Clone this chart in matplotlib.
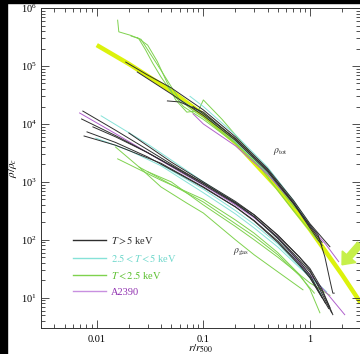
import matplotlib
matplotlib.use("Agg")
import matplotlib.pyplot as plt
from matplotlib.patches import Rectangle, FancyArrow

plt.rcParams['font.family'] = ['Liberation Serif', 'DejaVu Serif']
plt.rcParams['mathtext.fontset'] = 'stix'

# colours for the temperature classes
BLACK = '#2e2e2e'
CYAN = '#86e2d8'
GREEN = '#7fd24e'
PURPLE = '#b060cc'
YELLOW = '#dcf20c'

# NFW reference (thick yellow)
nfw_r = [0.01, 0.02, 0.05, 0.1, 0.2, 0.5, 1.0, 2.0, 3.0]
nfw_rho = [2.3e5, 1.09e5, 3.7e4, 1.44e4, 4.8e3, 780, 152, 25, 8.1]

# total density profiles
tot_black1_r = [0.0187, 0.03, 0.05, 0.1, 0.2, 0.4, 0.7, 1.0, 1.54]
tot_black1 = [1.17e5, 7.0e4, 4.2e4, 1.75e4, 6.0e3, 1.7e3, 480, 190, 76]
tot_black2_r = [0.024, 0.05, 0.1, 0.2, 0.4, 0.7, 1.0, 1.19, 1.38, 1.54, 1.64, 1.69]
tot_black2 = [7.9e4, 3.3e4, 1.4e4, 5.2e3, 1.5e3, 420, 180, 123, 51, 20, 12, 12]
tot_black3_r = [0.046, 0.06, 0.1, 0.2, 0.4, 0.7, 1.0, 1.3]
tot_black3 = [2.5e4, 2.4e4, 1.6e4, 5.5e3, 1.6e3, 450, 170, 90]
tot_black4_r = [0.08, 0.1, 0.2, 0.4, 0.7, 1.0, 1.3]
tot_black4 = [2.0e4, 1.5e4, 5.6e3, 1.6e3, 430, 160, 80]
tot_cyan1_r = [0.075, 0.1, 0.2, 0.4, 0.7, 1.0, 1.2]
tot_cyan1 = [3.0e4, 2.0e4, 6.5e3, 1.8e3, 480, 180, 110]
tot_cyan2_r = [0.06, 0.1, 0.2, 0.4, 0.8, 1.1]
tot_cyan2 = [2.6e4, 1.5e4, 5.0e3, 1.45e3, 320, 140]
tot_purple_r = [0.08, 0.1, 0.2, 0.4, 0.7, 1.0, 1.4, 1.86]
tot_purple = [1.5e4, 1.0e4, 4.2e3, 1.35e3, 430, 170, 85, 42]
tot_greenA_r = [0.0157, 0.0161, 0.0207, 0.0247, 0.0287, 0.0334, 0.04, 0.05,
                0.065, 0.1, 0.2, 0.4, 0.7, 0.86]
tot_greenA = [6.2e5, 3.9e5, 3.4e5, 3.0e5, 1.9e5, 1.13e5, 6.5e4, 3.6e4,
              2.0e4, 1.2e4, 4.6e3, 1.4e3, 380, 270]
tot_greenB_r = [0.021, 0.026, 0.032, 0.04, 0.05, 0.06, 0.08, 0.1, 0.2, 0.4, 0.7, 1.0]
tot_greenB = [3.3e5, 2.9e5, 1.6e5, 8.5e4, 4.4e4, 2.6e4, 1.7e4, 1.3e4, 4.8e3, 1.5e3, 420, 160]
tot_greenC_r = [0.024, 0.03, 0.037, 0.045, 0.055, 0.07, 0.09, 0.1, 0.15, 0.25, 0.42, 0.7, 1.2]
tot_greenC = [3.1e5, 2.3e5, 1.2e5, 5.5e4, 2.6e4, 1.6e4, 1.7e4, 2.6e4, 1.2e4, 4.0e3, 1.07e3, 320, 95]

# gas density profiles
gas_black1_r = [0.0074, 0.015, 0.03, 0.06, 0.1, 0.2, 0.3, 0.5, 0.8, 1.0, 1.3, 1.64]
gas_black1 = [1.67e4, 7.8e3, 3.6e3, 1.65e3, 950, 440, 270, 120, 50, 32, 14, 5.1]
gas_purple_r = [0.0069, 0.015, 0.03, 0.06, 0.1, 0.2, 0.3, 0.5, 0.8, 1.0, 1.5, 2.12]
gas_purple = [1.55e4, 6.8e3, 3.2e3, 1.5e3, 880, 400, 240, 110, 40, 25, 11, 5.1]
gas_black2_r = [0.0072, 0.015, 0.03, 0.06, 0.1, 0.2, 0.3, 0.5, 0.8, 1.0, 1.3, 1.54]
gas_black2 = [1.22e4, 6.3e3, 3.2e3, 1.55e3, 900, 420, 250, 110, 45, 28, 13, 6.8]
gas_black3_r = [0.0092, 0.015, 0.03, 0.06, 0.1, 0.2, 0.3, 0.5, 0.8, 1.0, 1.4]
gas_black3 = [8.9e3, 6.0e3, 3.2e3, 1.6e3, 950, 430, 250, 105, 42, 25, 8]
gas_black4_r = [0.0081, 0.015, 0.03, 0.06, 0.1, 0.2, 0.3, 0.5, 0.8, 1.0, 1.5]
gas_black4 = [7.3e3, 4.8e3, 2.7e3, 1.35e3, 800, 370, 215, 95, 38, 23, 6.5]
gas_black5_r = [0.0076, 0.015, 0.04, 0.1, 0.2, 0.3, 0.5, 0.8, 1.0, 1.3]
gas_black5 = [6.2e3, 4.3e3, 2.1e3, 820, 370, 210, 90, 36, 22, 10]
gas_black6_r = [0.02, 0.05, 0.1, 0.2, 0.3, 0.5, 0.8, 1.0, 1.6]
gas_black6 = [7e3, 2.2e3, 1.0e3, 460, 270, 120, 50, 30, 5.5]
gas_cyan1_r = [0.011, 0.03, 0.06, 0.1, 0.2, 0.3, 0.5, 0.8, 1.2]
gas_cyan1 = [1.38e4, 4.5e3, 1.9e3, 1.0e3, 440, 250, 105, 40, 16]
gas_cyan2_r = [0.0098, 0.02, 0.04, 0.1, 0.2, 0.3, 0.5, 0.8, 1.1, 1.44]
gas_cyan2 = [5.7e3, 3.5e3, 1.9e3, 650, 280, 160, 75, 33, 20, 12.6]
gas_cyan3_r = [0.04, 0.1, 0.2, 0.3, 0.5, 0.8, 1.0, 1.3]
gas_cyan3 = [2.0e3, 750, 320, 185, 85, 35, 22, 11]
gas_green1_r = [0.015, 0.025, 0.04, 0.07, 0.1, 0.2, 0.3, 0.5, 0.86]
gas_green1 = [4.0e3, 1.8e3, 820, 430, 290, 100, 55, 28, 13.7]
gas_green2_r = [0.0157, 0.04, 0.1, 0.2, 0.3, 0.5, 0.8, 1.0, 1.24]
gas_green2 = [2.5e3, 1.07e3, 500, 220, 130, 60, 25, 14, 5.5]
gas_green3_r = [0.03, 0.05, 0.1, 0.2, 0.3, 0.5, 0.8, 1.0, 1.54]
gas_green3 = [1.5e3, 1.0e3, 400, 170, 100, 50, 25, 18, 11]
gas_green4_r = [0.025, 0.05, 0.1, 0.2, 0.3, 0.5, 0.8, 1.1]
gas_green4 = [1.8e3, 900, 450, 190, 115, 55, 24, 12]

legend_labels = [r'$T > 5$ keV', r'$2.5 < T < 5$ keV', r'$T < 2.5$ keV', 'A2390']

fig = plt.figure(figsize=(3.6, 3.54), dpi=100)
fig.patch.set_facecolor('white')
ax = fig.add_axes([0.114, 0.0734, 0.886, 0.9036])

ax.plot(nfw_r, nfw_rho, color=YELLOW, lw=3.2, solid_capstyle='butt', zorder=1)

lw = 0.7
curves = [
    (tot_greenA_r, tot_greenA, GREEN), (tot_greenB_r, tot_greenB, GREEN),
    (tot_greenC_r, tot_greenC, GREEN), (tot_cyan1_r, tot_cyan1, CYAN),
    (tot_cyan2_r, tot_cyan2, CYAN), (tot_purple_r, tot_purple, PURPLE),
    (tot_black1_r, tot_black1, BLACK), (tot_black2_r, tot_black2, BLACK),
    (tot_black3_r, tot_black3, BLACK), (tot_black4_r, tot_black4, BLACK),
    (gas_green1_r, gas_green1, GREEN), (gas_green2_r, gas_green2, GREEN),
    (gas_green3_r, gas_green3, GREEN), (gas_green4_r, gas_green4, GREEN),
    (gas_cyan1_r, gas_cyan1, CYAN), (gas_cyan2_r, gas_cyan2, CYAN),
    (gas_cyan3_r, gas_cyan3, CYAN), (gas_purple_r, gas_purple, PURPLE),
    (gas_black1_r, gas_black1, BLACK), (gas_black2_r, gas_black2, BLACK),
    (gas_black3_r, gas_black3, BLACK), (gas_black4_r, gas_black4, BLACK),
    (gas_black5_r, gas_black5, BLACK), (gas_black6_r, gas_black6, BLACK),
]
for r, rho, c in curves:
    ax.plot(r, rho, color=c, lw=lw, zorder=2)

# legend entries
for lab, c in zip(legend_labels, [BLACK, CYAN, GREEN, '#c890e0']):
    ax.plot([], [], color=c, lw=1.0, label=lab)
leg = ax.legend(loc='lower left', bbox_to_anchor=(0.07, 0.068), frameon=False,
                fontsize=7.5, handlelength=3.2, handletextpad=0.5,
                labelspacing=0.6)
for t, c in zip(leg.get_texts(), [BLACK, '#70d8cc', '#5cc030', '#9030b0']):
    t.set_color(c)

ax.text(0.45, 3.2e3, r'$\rho_{\rm tot}$', fontsize=7, color=BLACK)
ax.text(0.19, 58, r'$\rho_{\rm gas}$', fontsize=7, color=BLACK)

ax.set_xscale('log')
ax.set_yscale('log')
ax.set_xlim(0.003, 2.95)
ax.set_ylim(3.0, 1e6)
ax.set_xticks([0.01, 0.1, 1])
ax.set_xticklabels(['0.01', '0.1', '1'])
ax.tick_params(which='both', direction='in', top=True, right=True,
               labelsize=7.5, color='#333333', width=0.6)
ax.tick_params(axis='x', pad=5)
ax.tick_params(axis='y', pad=3)
ax.tick_params(which='major', length=6)
ax.tick_params(which='minor', length=3)
for s in ax.spines.values():
    s.set_linewidth(0.7)
    s.set_color('#333333')

ax.set_xlabel(r'$r/r_{500}$', fontsize=8, labelpad=-1)
ax.set_ylabel(r'$\rho/\rho_c$', fontsize=8, labelpad=1)

# black frame edges of the screenshot
fig.patches.append(Rectangle((0, 0), 7 / 360, 1, transform=fig.transFigure,
                             color='black', zorder=0))
fig.patches.append(Rectangle((0, 1 - 3 / 354), 1, 3 / 354, transform=fig.transFigure,
                             color='black', zorder=0))

# pointer arrow
fig.patches.append(FancyArrow(1.0, 0.31, -0.05, -0.058, width=0.018,
                              head_width=0.05, head_length=0.03,
                              transform=fig.transFigure, color='#c6f04a',
                              length_includes_head=True, zorder=5))

fig.savefig('out.png', dpi=100)
